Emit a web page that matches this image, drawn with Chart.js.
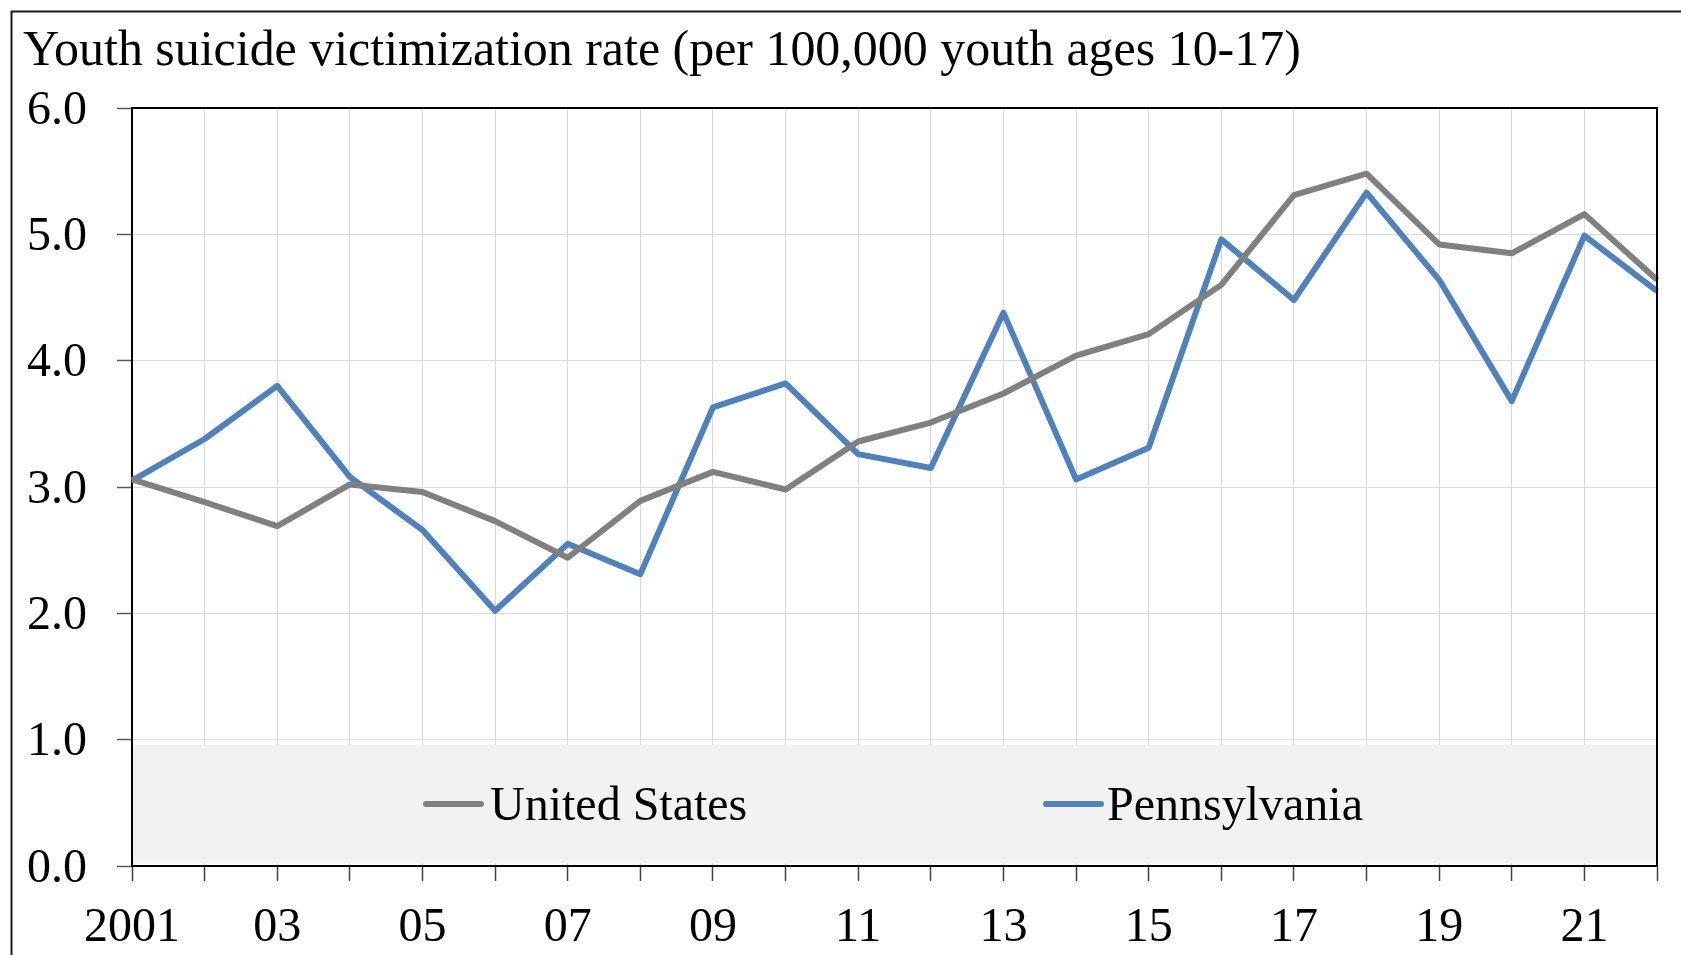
<!DOCTYPE html>
<html>
<head>
<meta charset="utf-8">
<script src="https://cdn.jsdelivr.net/npm/chart.js@4.4.1/dist/chart.umd.min.js"></script>
<style>
html,body{margin:0;padding:0;background:#fff;overflow:hidden}
#wrap{position:relative;width:1681px;height:955px}
</style>
</head>
<body>
<div id="wrap"><canvas id="c" width="1681" height="955"></canvas></div>
<script>
// ---- data ----
const years = [2001,2002,2003,2004,2005,2006,2007,2008,2009,2010,2011,2012,2013,2014,2015,2016,2017,2018,2019,2020,2021,2022];
const xTickLabels = ['2001','','03','','05','','07','','09','','11','','13','','15','','17','','19','','21',''];
const unitedStates = [3.06,2.88,2.69,3.02,2.96,2.73,2.44,2.89,3.12,2.98,3.36,3.51,3.74,4.04,4.21,4.60,5.31,5.48,4.92,4.85,5.16,4.64];
const pennsylvania = [3.05,3.38,3.80,3.08,2.66,2.02,2.55,2.31,3.63,3.82,3.26,3.15,4.38,3.06,3.31,4.96,4.48,5.33,4.64,3.68,4.99,4.55];
const seriesNames = ['United States','Pennsylvania'];
const yMin = 0, yMax = 6, yStep = 1;
const titleText = 'Youth suicide victimization rate (per 100,000 youth ages 10-17)';

// ---- styling ----
const FONT = '"Liberation Serif", "Times New Roman", serif';
const TICK_SIZE = 48;
const COLORS = ['#808080', '#4f81bd'];

// fit title font size to the reference width
const mctx = document.createElement('canvas').getContext('2d');
mctx.font = '100px ' + FONT;
const titleSize = Math.min(52, 100 * 1278 / mctx.measureText(titleText).width);
const titleLH = titleSize * 1.2;
const titlePadTop = 52 - titleLH / 2;
const titlePadBottom = 108 - titlePadTop - titleLH;

const decor = {
  id: 'decor',
  beforeDraw(chart) {
    const ctx = chart.ctx;
    ctx.save();
    ctx.fillStyle = '#fff';
    ctx.fillRect(0, 0, chart.width, chart.height);
    ctx.strokeStyle = '#1a1a1a';
    ctx.lineWidth = 2;
    ctx.strokeRect(11.5, 11.5, chart.width + 20, chart.height + 20);
    ctx.restore();
  },
  beforeDatasetsDraw(chart) {
    const ctx = chart.ctx;
    const a = chart.chartArea;
    const ys = chart.scales.y;
    ctx.save();
    // legend panel inside plot area
    const top = ys.getPixelForValue(0.96);
    const bottom = ys.getPixelForValue(0.02);
    ctx.fillStyle = '#f2f2f2';
    ctx.fillRect(a.left + 1, top, a.right - a.left - 2, bottom - top);
    // legend entries
    const cy = ys.getPixelForValue(0.49);
    const offsets = [[291, 358], [911, 975]];
    chart.data.datasets.forEach((ds, i) => {
      const [mx, tx] = offsets[i];
      ctx.strokeStyle = ds.borderColor;
      ctx.lineWidth = 6;
      ctx.lineCap = 'round';
      ctx.beginPath();
      ctx.moveTo(a.left + mx + 3, cy);
      ctx.lineTo(a.left + mx + 58, cy);
      ctx.stroke();
      ctx.fillStyle = '#000';
      ctx.font = TICK_SIZE + 'px ' + FONT;
      ctx.textAlign = 'left';
      ctx.textBaseline = 'middle';
      ctx.fillText(ds.label, a.left + tx, cy + 3);
    });
    ctx.restore();
  },
  afterDraw(chart) {
    const ctx = chart.ctx;
    const a = chart.chartArea;
    ctx.save();
    ctx.strokeStyle = '#000';
    ctx.lineWidth = 2;
    ctx.beginPath();
    ctx.moveTo(a.left - 1, a.top);
    ctx.lineTo(a.right, a.top);
    ctx.lineTo(a.right, a.bottom);
    ctx.stroke();
    ctx.restore();
  }
};

new Chart(document.getElementById('c'), {
  type: 'line',
  data: {
    labels: years,
    datasets: [
      { label: seriesNames[0], data: unitedStates, borderColor: COLORS[0], backgroundColor: COLORS[0],
        borderWidth: 6, pointRadius: 0, tension: 0, borderJoinStyle: 'round', borderCapStyle: 'butt', fill: false },
      { label: seriesNames[1], data: pennsylvania, borderColor: COLORS[1], backgroundColor: COLORS[1],
        borderWidth: 6, pointRadius: 0, tension: 0, borderJoinStyle: 'round', borderCapStyle: 'butt', fill: false }
    ]
  },
  options: {
    responsive: false,
    animation: false,
    devicePixelRatio: 1,
    layout: { padding: { left: 23, right: 24, top: 0, bottom: 0 } },
    plugins: {
      legend: { display: false },
      tooltip: { enabled: false },
      title: {
        display: true, text: titleText, align: 'start', color: '#000',
        font: { family: FONT, size: titleSize, weight: 'normal', lineHeight: 1.2 },
        padding: { top: titlePadTop, bottom: titlePadBottom }
      }
    },
    scales: {
      x: {
        type: 'category',
        offset: false,
        grid: { color: '#d9d9d9', lineWidth: 1, offset: false, tickLength: 15, tickColor: '#404040', tickWidth: 1.5 },
        border: { color: '#000', width: 2 },
        ticks: {
          autoSkip: false, maxRotation: 0, minRotation: 0, padding: 19, color: '#000',
          font: { family: FONT, size: TICK_SIZE },
          callback: (v, i) => xTickLabels[i]
        },
        afterFit: s => { s.height = 89; }
      },
      y: {
        min: yMin, max: yMax,
        grid: { color: '#d9d9d9', lineWidth: 1, tickLength: 15, tickColor: '#595959', tickWidth: 1.5 },
        border: { color: '#000', width: 2 },
        ticks: {
          stepSize: yStep, padding: 30, color: '#000', labelOffset: 3,
          font: { family: FONT, size: TICK_SIZE },
          callback: v => Number(v).toFixed(1)
        },
        afterFit: s => { s.width = 109; }
      }
    }
  },
  plugins: [decor]
});
</script>
</body>
</html>
